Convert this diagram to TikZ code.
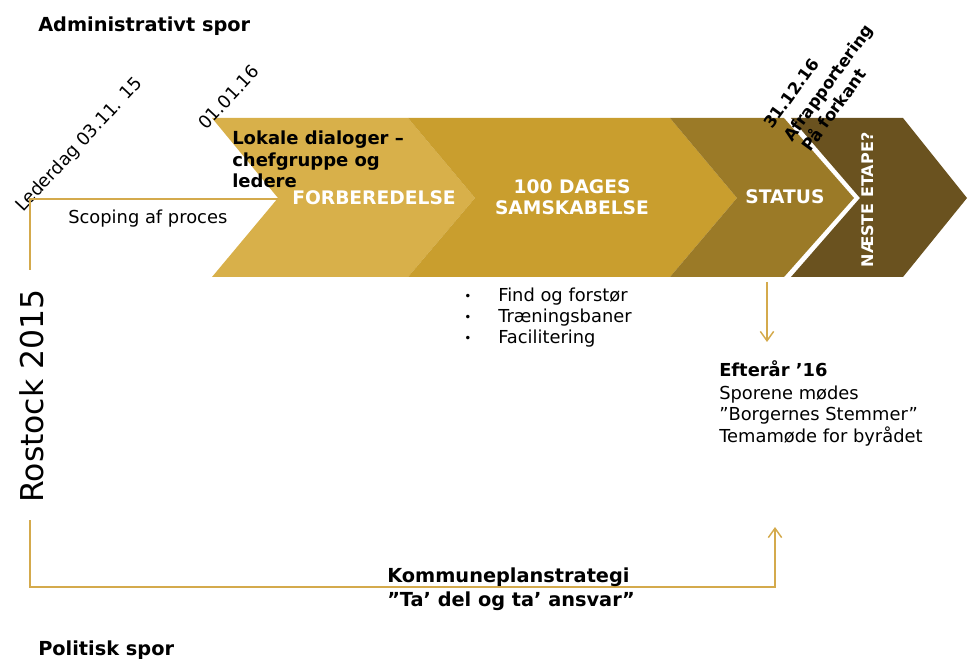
\documentclass[tikz,border=0pt]{standalone}
\usepackage{fontspec}
\setmainfont{DejaVu Sans}
\usetikzlibrary{arrows.meta}

\definecolor{chevA}{HTML}{D8B04A}
\definecolor{chevB}{HTML}{C99E2E}
\definecolor{chevC}{HTML}{9B7A27}
\definecolor{chevD}{HTML}{6A521F}
\definecolor{track}{HTML}{D4AA4C}

\newcommand{\regfont}{\fontsize{13.4pt}{16pt}\selectfont}
\newcommand{\headfont}{\fontsize{14.5pt}{17pt}\selectfont\bfseries}
\newcommand{\notefont}{\fontsize{13.5pt}{16pt}\selectfont\bfseries}
\newcommand{\labfont}{\fontsize{14pt}{16pt}\selectfont\bfseries}
\newcommand{\slutfont}{\fontsize{12.4pt}{15pt}\selectfont\bfseries}

\begin{document}
\begin{tikzpicture}[x=0.75pt,y=-0.75pt,
  txt/.style={anchor=base west,inner sep=0pt,font=\regfont},
  label/.style={anchor=base,inner sep=0pt,text=white,font=\labfont},
  trackline/.style={draw=track,line width=1.1pt},
  barb/.style={-{Straight Barb[length=7pt,width=10pt,line width=1.1pt]}}]
\useasboundingbox (0,0) rectangle (968,659);

% phase chevrons
\fill[chevA] (212,118) -- (408,118) -- (475,198) -- (408,277) -- (212,277) -- (278,198) -- cycle;
\fill[chevB] (408,118) -- (670,118) -- (737,198) -- (670,277) -- (408,277) -- (475,198) -- cycle;
\fill[chevC] (670,118) -- (784,118) -- (854,198) -- (784,277) -- (670,277) -- (737,198) -- cycle;
\fill[chevD] (791,118) -- (903,118) -- (967,198) -- (903,277) -- (791,277) -- (860,198) -- cycle;
\coordinate (notch) at (278,199);

% phase labels
\node[label] (forb) at (374,205) {FORBEREDELSE};
\node[label] (dage1) at (572,194) {100 DAGES};
\node[label] (dage2) at (572,215) {SAMSKABELSE};
\node[label] (status) at (785,204) {STATUS};
\node[label,rotate=90,font=\fontsize{12pt}{14pt}\selectfont\bfseries] (naeste) at (873,200) {NÆSTE ETAPE?};

% headings
\node[txt,font=\headfont] (admin) at (38,32) {Administrativt spor};
\node[txt,font=\headfont] (polit) at (38,655) {Politisk spor};
\node[txt,rotate=90,font=\fontsize{23.6pt}{28pt}\selectfont] (rostock) at (43,503) {Rostock 2015};

% milestones
\node[txt,rotate=47] (lederdag) at (23,213) {Lederdag 03.11. 15};
\node[txt,rotate=47] (nytaar) at (206,131) {01.01.16};
\node[txt,rotate=54,font=\slutfont] (slut1) at (772,130) {31.12.16};
\node[txt,rotate=54,font=\slutfont] (slut2) at (792,143) {Afrapportering};
\node[txt,rotate=54,font=\slutfont] (slut3) at (810,153) {På forkant};

% administrative track
\coordinate (topstart) at (30,270);
\coordinate (topcorner) at (30,199);
\draw[trackline] (topstart) -- (topcorner) -- (notch);
\node[txt] (scoping) at (68,224) {Scoping af proces};

\node[txt,font=\notefont] (lok1) at (232,145) {Lokale dialoger –};
\node[txt,font=\notefont] (lok2) at (232,167) {chefgruppe og};
\node[txt,font=\notefont] (lok3) at (232,188) {ledere};

% bullet list
\node[anchor=base,inner sep=0pt,font=\fontsize{9pt}{10pt}\selectfont] (b1) at (468,301) {•};
\node[anchor=base,inner sep=0pt,font=\fontsize{9pt}{10pt}\selectfont] (b2) at (468,322) {•};
\node[anchor=base,inner sep=0pt,font=\fontsize{9pt}{10pt}\selectfont] (b3) at (468,343) {•};
\node[txt] (find) at (498,302) {Find og forstør};
\node[txt] (traen) at (498,323) {Træningsbaner};
\node[txt] (facil) at (498,344) {Facilitering};

% meeting point of the tracks
\coordinate (downstart) at (767,282);
\coordinate (downend) at (767,342);
\draw[trackline,barb] (downstart) -- (downend);
\node[txt,font=\regfont\bfseries] (eft1) at (719,377) {Efterår ’16};
\node[txt] (eft2) at (719,399) {Sporene mødes};
\node[txt] (eft3) at (719,421) {”Borgernes Stemmer”};
\node[txt] (eft4) at (719,442) {Temamøde for byrådet};

% political track
\coordinate (botstart) at (30,520);
\coordinate (botcorner) at (30,587);
\coordinate (botturn) at (775,587);
\coordinate (botend) at (775,527);
\draw[trackline,barb] (botstart) -- (botcorner) -- (botturn) -- (botend);
\node[txt,font=\headfont] (kom1) at (387,582) {Kommuneplanstrategi};
\node[txt,font=\headfont] (kom2) at (387,606) {”Ta’ del og ta’ ansvar”};
\end{tikzpicture}
\end{document}
